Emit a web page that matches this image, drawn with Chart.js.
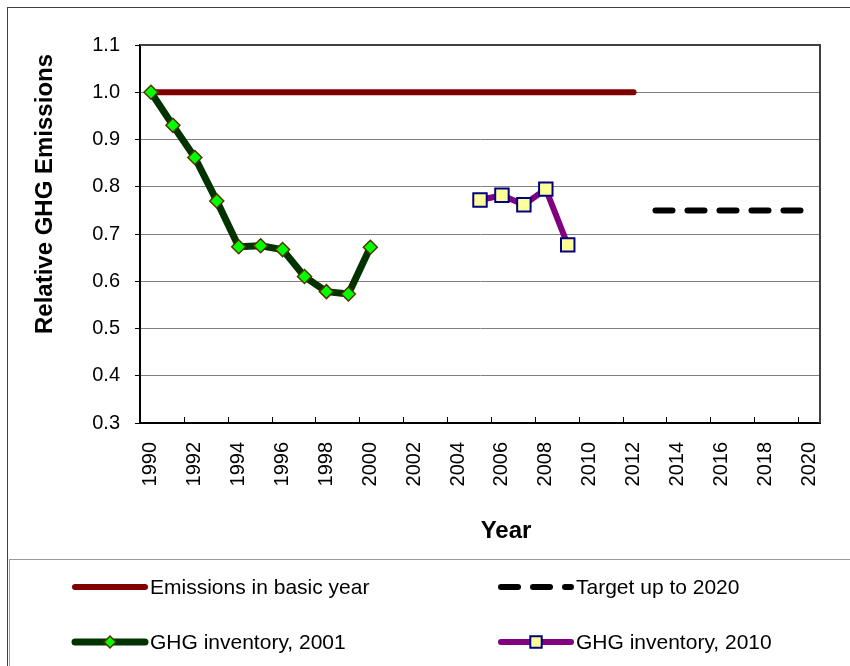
<!DOCTYPE html>
<html>
<head>
<meta charset="utf-8">
<script src="https://cdn.jsdelivr.net/npm/chart.js@4.4.1/dist/chart.umd.min.js"></script>
<style>
  html, body { margin: 0; padding: 0; background: #ffffff; }
  #wrap { position: relative; width: 850px; height: 666px; }
</style>
</head>
<body>
<div id="wrap"><canvas id="c" width="850" height="666"></canvas></div>
<script>
// ---- Data ----
const years = ['1990','1991','1992','1993','1994','1995','1996','1997','1998','1999','2000',
               '2001','2002','2003','2004','2005','2006','2007','2008','2009','2010',
               '2011','2012','2013','2014','2015','2016','2017','2018','2019','2020'];

const emissionsBasicYear = [1.0,1.0,1.0,1.0,1.0,1.0,1.0,1.0,1.0,1.0,1.0,
                            1.0,1.0,1.0,1.0,1.0,1.0,1.0,1.0,1.0,1.0,
                            1.0,1.0,null,null,null,null,null,null,null,null];

const targetTo2020 = [null,null,null,null,null,null,null,null,null,null,null,
                      null,null,null,null,null,null,null,null,null,null,
                      null,null,0.75,0.75,0.75,0.75,0.75,0.75,0.75,0.75];

const inventory2001 = [1.0,0.930,0.862,0.770,0.673,0.675,0.667,0.610,0.578,0.573,0.672,
                       null,null,null,null,null,null,null,null,null,null,
                       null,null,null,null,null,null,null,null,null,null];

const inventory2010 = [null,null,null,null,null,null,null,null,null,null,null,
                       null,null,null,null,0.772,0.782,0.762,0.795,0.677,null,
                       null,null,null,null,null,null,null,null,null,null];

const yTicks = [0.3,0.4,0.5,0.6,0.7,0.8,0.9,1.0,1.1];
const seriesNames = ['Emissions in basic year','Target up to 2020','GHG inventory, 2001','GHG inventory, 2010'];
const xTitle = 'Year';
const yTitle = 'Relative GHG Emissions';

const FONT = 'Arial, "Liberation Sans", sans-serif';

// ---- Custom drawing plugin (frames, titles, inward ticks, legend) ----
const decor = {
  id: 'decor',
  beforeDatasetsDraw(chart) {
    const ctx = chart.ctx, a = chart.chartArea;
    ctx.save();
    ctx.strokeStyle = '#404040';
    ctx.lineWidth = 2;
    ctx.beginPath();
    ctx.moveTo(a.left, a.top); ctx.lineTo(a.right, a.top); ctx.lineTo(a.right, a.bottom);
    ctx.stroke();
    // inward x ticks every 2 categories, at category boundaries
    ctx.strokeStyle = '#000000';
    ctx.lineWidth = 1;
    const step = (a.right - a.left) / years.length;
    for (let i = 2; i < years.length; i += 2) {
      const x = Math.round(a.left + i * step) + 0.5;
      ctx.beginPath(); ctx.moveTo(x, a.bottom); ctx.lineTo(x, a.bottom - 6); ctx.stroke();
    }
    ctx.restore();
  },
  afterDraw(chart) {
    const ctx = chart.ctx;
    ctx.save();
    // outer frame
    ctx.strokeStyle = '#404040';
    ctx.lineWidth = 1;
    ctx.strokeRect(7.5, 7.5, 900, 900);
    // legend frame
    ctx.strokeStyle = '#9a9a9a';
    ctx.strokeRect(9.5, 559.5, 900, 900);

    // axis titles
    ctx.fillStyle = '#000';
    ctx.font = 'bold 24px ' + FONT;
    ctx.textAlign = 'center';
    ctx.textBaseline = 'middle';
    ctx.fillText(xTitle, 506, 531);
    ctx.save();
    ctx.translate(45, 194);
    ctx.rotate(-Math.PI / 2);
    ctx.fillText(yTitle, 0, 0);
    ctx.restore();

    // legend
    const pos = [[72, 587], [498, 587], [72, 642], [498, 642]];
    const lineLen = 73;
    ctx.font = '21px ' + FONT;
    ctx.textAlign = 'left';
    ctx.textBaseline = 'middle';
    chart.data.datasets.forEach((ds, i) => {
      const [x, y] = pos[i];
      ctx.save();
      ctx.strokeStyle = ds.borderColor;
      ctx.lineWidth = ds.borderWidth;
      ctx.lineCap = 'round';
      ctx.setLineDash(ds.borderDash || []);
      ctx.beginPath(); ctx.moveTo(x + 3, y); ctx.lineTo(x + lineLen, y); ctx.stroke();
      ctx.restore();
      if (ds.pointStyle && ds.pointRadius > 0) {
        ctx.save();
        ctx.fillStyle = ds.pointBackgroundColor;
        ctx.strokeStyle = ds.pointBorderColor;
        ctx.lineWidth = ds.pointBorderWidth;
        Chart.helpers.drawPoint(ctx, {
          pointStyle: ds.pointStyle, rotation: 0,
          radius: ds.pointStyle === 'rect' ? ds.pointRadius * 0.85 : ds.pointRadius * 0.85,
          borderWidth: ds.pointBorderWidth
        }, x + lineLen / 2 + 1.5, y);
        ctx.restore();
      }
      ctx.fillStyle = '#000';
      ctx.fillText(ds.label, x + lineLen + 5, y + 1);
    });
    ctx.restore();
  }
};

const ctx = document.getElementById('c').getContext('2d');
const chart = new Chart(ctx, {
  type: 'line',
  data: {
    labels: years,
    datasets: [
      {
        label: seriesNames[0], data: emissionsBasicYear,
        borderColor: '#800000', borderWidth: 6, borderCapStyle: 'round', borderJoinStyle: 'round',
        pointRadius: 0, order: 2
      },
      {
        label: seriesNames[1], data: targetTo2020,
        borderColor: '#000000', borderWidth: 6, borderDash: [17, 15], borderCapStyle: 'round',
        pointRadius: 0, order: 2
      },
      {
        label: seriesNames[2], data: inventory2001,
        borderColor: '#003300', borderWidth: 7, borderCapStyle: 'round', borderJoinStyle: 'round',
        pointStyle: 'rectRot', pointRadius: 7, pointBackgroundColor: '#00ff00',
        pointBorderColor: '#553300', pointBorderWidth: 1.5, order: 0
      },
      {
        label: seriesNames[3], data: inventory2010,
        borderColor: '#800080', borderWidth: 6, borderCapStyle: 'round', borderJoinStyle: 'round',
        pointStyle: 'rect', pointRadius: 9.5, pointBackgroundColor: '#ffff99',
        pointBorderColor: '#000080', pointBorderWidth: 2, order: 0
      }
    ]
  },
  options: {
    responsive: false,
    animation: false,
    devicePixelRatio: 1,
    layout: { padding: { top: 45, right: 30, bottom: 113, left: 0 } },
    plugins: { legend: { display: false }, tooltip: { enabled: false } },
    elements: { line: { tension: 0 } },
    scales: {
      x: {
        type: 'category',
        offset: true,
        grid: { display: false, offset: true },
        border: { display: true, color: '#000000', width: 2 },
        ticks: {
          autoSkip: false, maxRotation: 90, minRotation: 90, padding: 11,
          color: '#000', font: { family: FONT, size: 20 },
          callback: function(v, i) { return i % 2 === 0 ? years[i] : ''; }
        },
        afterFit: function(s) { s.height = 130; }
      },
      y: {
        min: 0.3, max: 1.1,
        afterBuildTicks: function(s) { s.ticks = yTicks.map(v => ({ value: v })); },
        grid: { color: '#808080', lineWidth: 1, tickLength: 5, tickColor: '#000' },
        border: { display: true, color: '#000000', width: 2 },
        ticks: {
          padding: 15, color: '#000', font: { family: FONT, size: 20 },
          callback: function(v) { return Number(v).toFixed(1); }
        },
        afterFit: function(s) { s.width = 140; }
      }
    }
  },
  plugins: [decor]
});
</script>
</body>
</html>
